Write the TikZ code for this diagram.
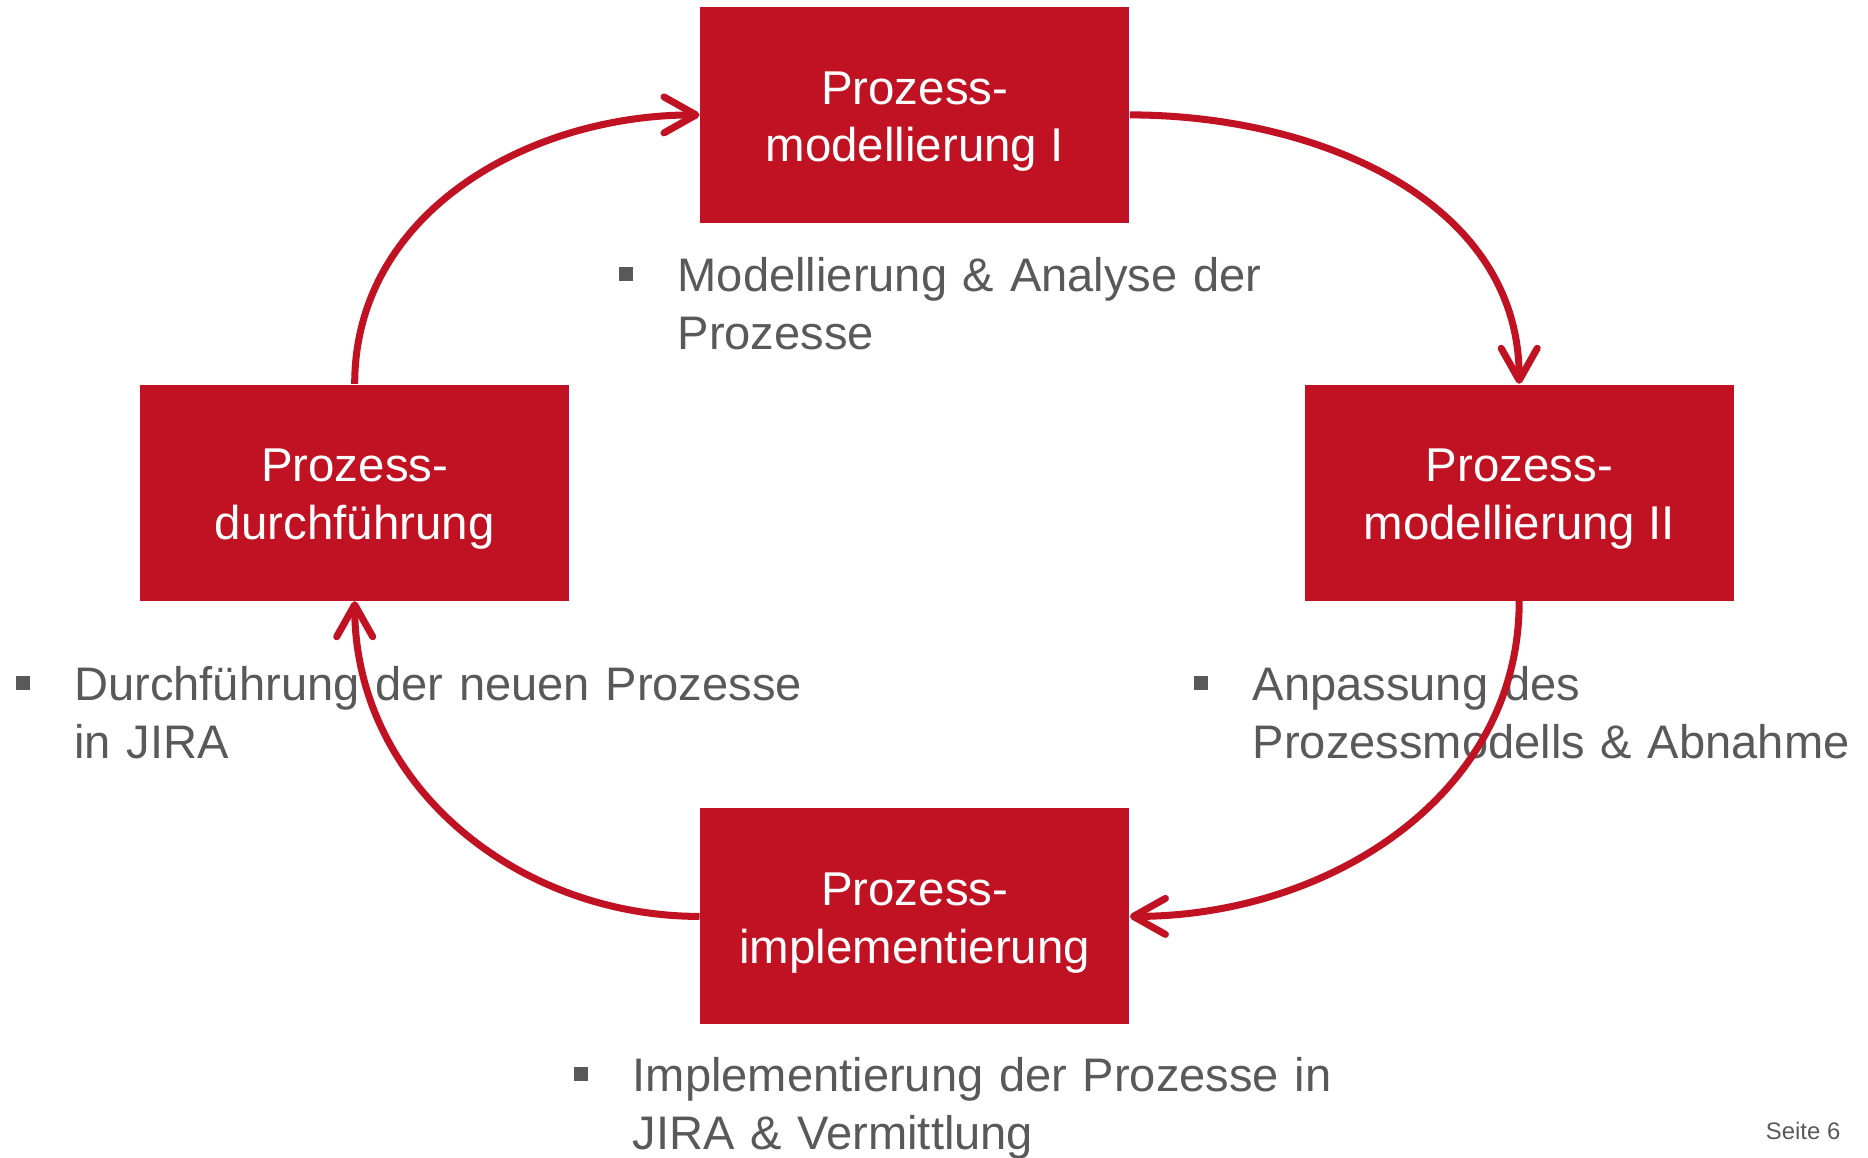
\documentclass[tikz,border=0pt]{standalone}
\usepackage{fontspec}
\setmainfont{Liberation Sans}
\usetikzlibrary{arrows.meta,positioning}
\definecolor{kitred}{RGB}{192,18,34}
\definecolor{textgray}{RGB}{89,89,89}
\newcommand{\punkt}{\llap{\textcolor{textgray}{\rule[0.105cm]{0.14cm}{0.14cm}}\hspace{0.445cm}}}
\newcommand{\hoch}{\rule{0pt}{13.1pt}}

\begin{document}
\begin{tikzpicture}[on grid,
    phase/.style={rectangle, fill=kitred, text=white, minimum width=4.29cm,
      minimum height=2.16cm, inner sep=0pt, align=center,
      font=\fontsize{13.5}{16.3}\selectfont},
    info/.style={text=textgray, text width=12cm, align=left, inner sep=0pt,
      anchor=base west, font=\fontsize{13.4}{16.4}\selectfont},
    pfeil/.style={color=kitred, line width=2pt,
      -{Straight Barb[length=3.2mm,width=3.6mm,round]}}]
   \useasboundingbox (0,0) rectangle (18.68,-11.57);

   \node[phase] (PD) at (3.547,-4.925) {\hoch Prozess-\\durchführung};
   \node[phase] (PM1) [above right=3.776cm and 5.60cm of PD] {\hoch Prozess-\\modellierung I};
   \node[phase] (PM2) [below right=3.776cm and 6.045cm of PM1] {\hoch Prozess-\\modellierung II};
   \node[phase] (PI) [below left=4.239cm and 6.045cm of PM2] {\hoch Prozess-\\implementierung};

   \node[info] (T1) at (6.77,-2.915) {\punkt Modellierung \& Analyse der\\Prozesse};
   \node[info] (T2) at (0.736,-7.005) {\punkt Durchführung der neuen Prozesse\\in JIRA};
   \node[info] (T3) at (12.52,-7.005) {\punkt Anpassung des\\Prozessmodells \& Abnahme};
   \node[info] (T4) at (6.32,-10.915) {\punkt Implementierung der Prozesse in\\JIRA \& Vermittlung};

   \node[text=textgray, anchor=base east, inner sep=0pt,
     font=\fontsize{6.8}{8}\selectfont] (seite) at (18.41,-11.39) {Seite 6};

    \path[pfeil]
    (PD) edge [out=90, in=180] (PM1)
    (PM1) edge [out=0, in=90] (PM2)
    (PM2) edge [out=-90, in=0] (PI)
    (PI) edge [out=180, in=-90] (PD);
\end{tikzpicture}
\end{document}
